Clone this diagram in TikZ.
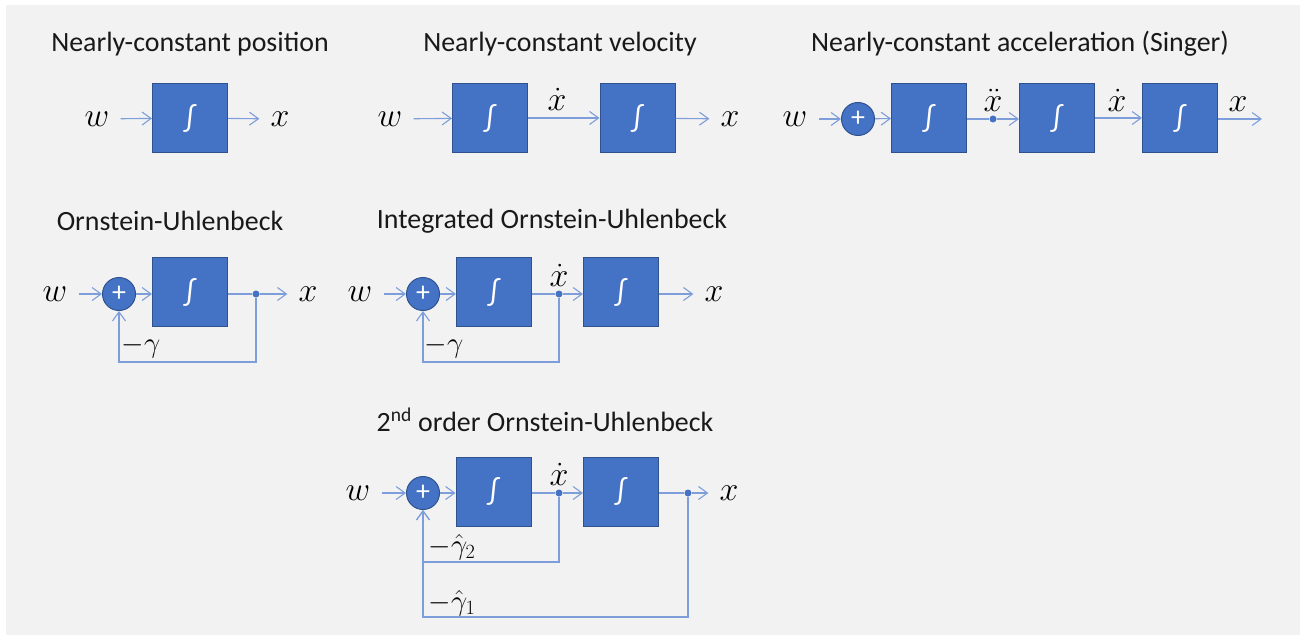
\RequirePackage{fix-cm}
\documentclass[tikz,border=0pt]{standalone}
\usepackage{fontspec}
\setmainfont{Carlito}
\usetikzlibrary{arrows.meta}
\definecolor{paper}{HTML}{F2F2F2}
\definecolor{blockfill}{HTML}{4472C4}
\definecolor{blockedge}{HTML}{2F528F}
\definecolor{wirecol}{HTML}{7D9DDB}
\begin{document}
\begin{tikzpicture}[x=1bp,y=-1bp,
  intbox/.style={draw=blockedge, fill=blockfill, line width=1bp,
    minimum width=75bp, minimum height=69bp, inner sep=0pt, text=white,
    font=\fontsize{30}{34}\selectfont},
  sumnode/.style={circle, draw=blockedge, fill=blockfill, line width=1bp,
    minimum size=33bp, inner sep=0pt, text=white,
    font=\fontsize{28}{32}\selectfont},
  wire/.style={draw=wirecol, line width=1.1bp},
  sig/.style={wire, -{Straight Barb[length=9bp,width=13bp,line width=1.1bp]}},
  junction/.style={circle, fill=blockfill, inner sep=0pt, minimum size=7bp},
  title/.style={font=\fontsize{28}{32}\selectfont, text=black!90},
  lab/.style={font=\fontsize{34}{38}\selectfont, inner ysep=0pt, inner xsep=11bp},
  toplab/.style={font=\fontsize{34}{38}\selectfont, inner sep=0pt, anchor=south},
  gainlab/.style={font=\fontsize{29}{33}\selectfont, inner sep=0pt},
]
% page and background
\fill[white] (0,0) rectangle (1300,635);
\fill[paper] (6,5) rectangle (1300,635);
\useasboundingbox (0,0) rectangle (1300,635);

% ---------- Nearly-constant position ----------
\node[title] (t1) at (190,44) {Nearly-constant position};
\node[lab] (w1) at (97,119) {$w$};
\node[intbox] (i1) at (190,118) {∫};
\node[lab] (x1) at (280,119) {$x$};
\draw[sig] (w1) -- (i1);
\draw[sig] (i1) -- (x1);

% ---------- Nearly-constant velocity ----------
\node[title] (t2) at (560,44) {Nearly-constant velocity};
\node[lab] (w2) at (390,119) {$w$};
\node[intbox] (i2a) at (490,118) {∫};
\node[intbox] (i2b) at (637.5,118) {∫};
\node[lab] (x2) at (730,119) {$x$};
\node[toplab] (v2) at (557,111) {$\dot{x}$};
\draw[sig] (w2) -- (i2a);
\draw[sig] (i2a) -- (i2b);
\draw[sig] (i2b) -- (x2);

% ---------- Nearly-constant acceleration (Singer) ----------
\node[title] (t3) at (1020,44) {Nearly-constant acceleration (Singer)};
\node[lab] (w3) at (795,119) {$w$};
\node[sumnode] (s3) at (858,119) {+};
\node[intbox] (i3a) at (929,118) {∫};
\node[junction] (d3) at (993,119) {};
\node[intbox] (i3b) at (1057,118) {∫};
\node[intbox] (i3c) at (1180,118) {∫};
\node[toplab] (a3) at (993,112) {$\ddot{x}$};
\node[toplab] (v3) at (1117,112) {$\dot{x}$};
\node[toplab] (x3) at (1238,112) {$x$};
\coordinate (o3) at (1262,119);
\draw[sig] (w3) -- (s3);
\draw[sig] (s3) -- (i3a);
\draw[wire] (i3a.east |- d3) -- (d3);
\draw[sig] (d3) -- (i3b.west |- d3);
\draw[sig] (i3b) -- (i3c);
\draw[sig] (i3c.east |- o3) -- (o3);

% ---------- Ornstein-Uhlenbeck ----------
\node[title] (t4) at (170,221) {Ornstein-Uhlenbeck};
\node[lab] (w4) at (55,294) {$w$};
\node[sumnode] (s4) at (119,294) {+};
\node[intbox] (i4) at (190,292) {∫};
\node[junction] (d4) at (256,294) {};
\node[lab] (x4) at (308,294) {$x$};
\node[gainlab] (g4) at (141,347) {$-\gamma$};
\draw[sig] (w4) -- (s4);
\draw[sig] (s4) -- (i4.west |- s4);
\draw[wire] (i4.east |- d4) -- (d4);
\draw[sig] (d4) -- (x4);
\draw[sig] (d4) -- ++(0,68) -| (s4);

% ---------- Integrated Ornstein-Uhlenbeck ----------
\node[title] (t5) at (552,221) {Integrated Ornstein-Uhlenbeck};
\node[lab] (w5) at (360,294) {$w$};
\node[sumnode] (s5) at (423,294) {+};
\node[intbox] (i5a) at (494,292) {∫};
\node[junction] (d5) at (559,294) {};
\node[intbox] (i5b) at (621,292) {∫};
\node[lab] (x5) at (714,294) {$x$};
\node[toplab] (v5) at (559,287) {$\dot{x}$};
\node[gainlab] (g5) at (444,347) {$-\gamma$};
\draw[sig] (w5) -- (s5);
\draw[sig] (s5) -- (i5a.west |- s5);
\draw[wire] (i5a.east |- d5) -- (d5);
\draw[sig] (d5) -- (i5b.west |- d5);
\draw[sig] (i5b.east |- d5) -- (x5);
\draw[sig] (d5) -- ++(0,68) -| (s5);

% ---------- 2nd order Ornstein-Uhlenbeck ----------
\node[title] (t6) at (545,420) {2\textsuperscript{nd} order Ornstein-Uhlenbeck};
\node[lab] (w6) at (358,493) {$w$};
\node[sumnode] (s6) at (423,493) {+};
\node[intbox] (i6a) at (493.5,491.5) {∫};
\node[junction] (d6a) at (559,493) {};
\node[intbox] (i6b) at (621,491.5) {∫};
\node[junction] (d6b) at (688,493) {};
\node[lab] (x6) at (729,493) {$x$};
\node[toplab] (v6) at (559,486) {$\dot{x}$};
\node[gainlab] (g6b) at (452,547) {$-\hat{\gamma}_2$};
\node[gainlab] (g6a) at (452,603) {$-\hat{\gamma}_1$};
\draw[sig] (w6) -- (s6);
\draw[sig] (s6) -- (i6a.west |- s6);
\draw[wire] (i6a.east |- d6a) -- (d6a);
\draw[sig] (d6a) -- (i6b.west |- d6a);
\draw[wire] (i6b.east |- d6b) -- (d6b);
\draw[sig] (d6b) -- (x6);
\draw[sig] (d6a) -- ++(0,69) -| (s6);
\draw[sig] (d6b) -- ++(0,124) -| (s6);
\end{tikzpicture}
\end{document}
